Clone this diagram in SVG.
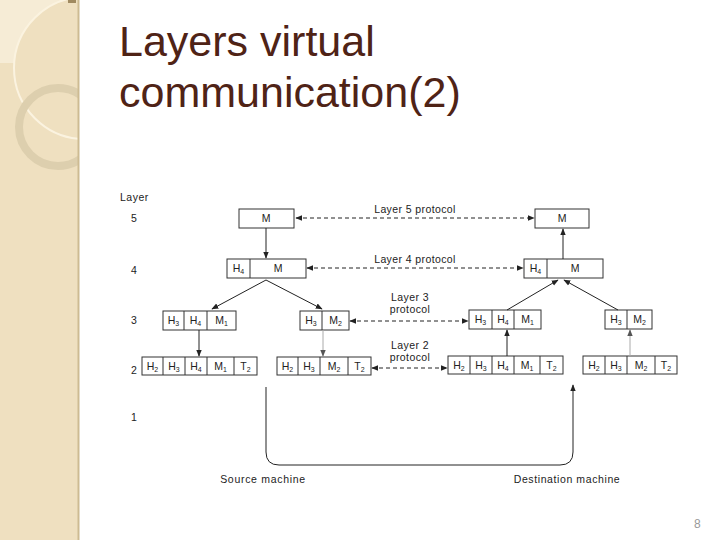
<svg xmlns="http://www.w3.org/2000/svg" width="720" height="540" viewBox="0 0 720 540">
<defs>
<marker id="ah" viewBox="0 0 10 10" refX="9" refY="5" markerWidth="7" markerHeight="7" markerUnits="userSpaceOnUse" orient="auto-start-reverse"><path d="M0,1 L10,5 L0,9 Z" fill="#222"/></marker>
<marker id="ahg" viewBox="0 0 10 10" refX="9" refY="5" markerWidth="7" markerHeight="7" markerUnits="userSpaceOnUse" orient="auto"><path d="M0,1 L10,5 L0,9 Z" fill="#555"/></marker>
<clipPath id="strip"><rect x="0" y="0" width="78" height="540"/></clipPath>
</defs>
<style>
.box{fill:#fff;stroke:#333;stroke-width:1}
.div{stroke:#333;stroke-width:1}
.t{font-family:"Liberation Sans",Arial,sans-serif;font-size:10.5px;fill:#222;text-anchor:middle}
.s{font-size:7px}
.lbl{font-family:"Liberation Sans",Arial,sans-serif;font-size:10.5px;fill:#222}
.ln{stroke:#222;stroke-width:1;fill:none}
.dash{stroke:#222;stroke-width:1;stroke-dasharray:4,3;fill:none}
.title{font-family:"Liberation Sans",Arial,sans-serif;font-size:43px;fill:#4f2316}
</style>
<rect width="720" height="540" fill="#fff"/>
<g id="background" clip-path="url(#strip)">
<rect x="0" y="0" width="78" height="540" fill="#efe0c0"/>
<path d="M0,0 H66 A71,71 0 0 0 14,63 H0 Z" fill="#f6ecd6"/>
<circle cx="85" cy="68" r="71" fill="none" stroke="#fbf3e0" stroke-width="2"/>
<circle cx="58" cy="127" r="39" fill="none" stroke="#ddcfae" stroke-width="8"/>
<rect x="68" y="0" width="8" height="3" fill="#a08a60"/>
</g>
<line x1="78.5" y1="0" x2="78.5" y2="540" stroke="#cdbb92" stroke-width="2"/>
<g id="title">
<text class="title" x="119" y="56">Layers virtual</text>
<text class="title" x="119" y="107">communication(2)</text>
</g>
<g id="layer-labels">
<text class="lbl" x="120" y="201" letter-spacing="0.5">Layer</text>
<text class="t" x="134" y="222">5</text>
<text class="t" x="134" y="274">4</text>
<text class="t" x="134" y="324">3</text>
<text class="t" x="134" y="374">2</text>
<text class="t" x="134" y="421">1</text>
</g>
<g id="src-l5">
<rect class="box" x="239" y="209" width="55" height="19"/>
<text class="t" x="266" y="222">M</text>
</g>
<g id="dst-l5">
<rect class="box" x="535" y="209" width="54" height="19"/>
<text class="t" x="562" y="222">M</text>
</g>
<g id="src-l4">
<rect class="box" x="227" y="259" width="79" height="19"/>
<line class="div" x1="250" y1="259" x2="250" y2="278"/>
<text class="t" x="238.5" y="272">H<tspan class="s" dy="2">4</tspan></text>
<text class="t" x="278" y="272">M</text>
</g>
<g id="dst-l4">
<rect class="box" x="524" y="259" width="79" height="19"/>
<line class="div" x1="547" y1="259" x2="547" y2="278"/>
<text class="t" x="535.5" y="272">H<tspan class="s" dy="2">4</tspan></text>
<text class="t" x="575" y="272">M</text>
</g>
<g id="src-l3a">
<rect class="box" x="163" y="311" width="73" height="19"/>
<line class="div" x1="184" y1="311" x2="184" y2="330"/>
<line class="div" x1="207" y1="311" x2="207" y2="330"/>
<text class="t" x="173.5" y="324">H<tspan class="s" dy="2">3</tspan></text>
<text class="t" x="195.5" y="324">H<tspan class="s" dy="2">4</tspan></text>
<text class="t" x="221.5" y="324">M<tspan class="s" dy="2">1</tspan></text>
</g>
<g id="src-l3b">
<rect class="box" x="300" y="311" width="49" height="19"/>
<line class="div" x1="322" y1="311" x2="322" y2="330"/>
<text class="t" x="311" y="324">H<tspan class="s" dy="2">3</tspan></text>
<text class="t" x="335.5" y="324">M<tspan class="s" dy="2">2</tspan></text>
</g>
<g id="dst-l3a">
<rect class="box" x="469" y="310" width="72" height="19"/>
<line class="div" x1="492" y1="310" x2="492" y2="329"/>
<line class="div" x1="514" y1="310" x2="514" y2="329"/>
<text class="t" x="480.5" y="323">H<tspan class="s" dy="2">3</tspan></text>
<text class="t" x="503" y="323">H<tspan class="s" dy="2">4</tspan></text>
<text class="t" x="527.5" y="323">M<tspan class="s" dy="2">1</tspan></text>
</g>
<g id="dst-l3b">
<rect class="box" x="605" y="310" width="47" height="19"/>
<line class="div" x1="627" y1="310" x2="627" y2="329"/>
<text class="t" x="616" y="323">H<tspan class="s" dy="2">3</tspan></text>
<text class="t" x="639.5" y="323">M<tspan class="s" dy="2">2</tspan></text>
</g>
<g id="src-l2a">
<rect class="box" x="142" y="357" width="115" height="18"/>
<line class="div" x1="163" y1="357" x2="163" y2="375"/>
<line class="div" x1="185" y1="357" x2="185" y2="375"/>
<line class="div" x1="207" y1="357" x2="207" y2="375"/>
<line class="div" x1="234" y1="357" x2="234" y2="375"/>
<text class="t" x="152.5" y="370">H<tspan class="s" dy="2">2</tspan></text>
<text class="t" x="174" y="370">H<tspan class="s" dy="2">3</tspan></text>
<text class="t" x="196" y="370">H<tspan class="s" dy="2">4</tspan></text>
<text class="t" x="220.5" y="370">M<tspan class="s" dy="2">1</tspan></text>
<text class="t" x="245.5" y="370">T<tspan class="s" dy="2">2</tspan></text>
</g>
<g id="src-l2b">
<rect class="box" x="277" y="357" width="94" height="18"/>
<line class="div" x1="298" y1="357" x2="298" y2="375"/>
<line class="div" x1="320" y1="357" x2="320" y2="375"/>
<line class="div" x1="348" y1="357" x2="348" y2="375"/>
<text class="t" x="287.5" y="370">H<tspan class="s" dy="2">2</tspan></text>
<text class="t" x="309" y="370">H<tspan class="s" dy="2">3</tspan></text>
<text class="t" x="334" y="370">M<tspan class="s" dy="2">2</tspan></text>
<text class="t" x="359.5" y="370">T<tspan class="s" dy="2">2</tspan></text>
</g>
<g id="dst-l2a">
<rect class="box" x="448" y="356" width="115" height="18"/>
<line class="div" x1="470" y1="356" x2="470" y2="374"/>
<line class="div" x1="492" y1="356" x2="492" y2="374"/>
<line class="div" x1="514" y1="356" x2="514" y2="374"/>
<line class="div" x1="540" y1="356" x2="540" y2="374"/>
<text class="t" x="459" y="369">H<tspan class="s" dy="2">2</tspan></text>
<text class="t" x="481" y="369">H<tspan class="s" dy="2">3</tspan></text>
<text class="t" x="503" y="369">H<tspan class="s" dy="2">4</tspan></text>
<text class="t" x="527" y="369">M<tspan class="s" dy="2">1</tspan></text>
<text class="t" x="551.5" y="369">T<tspan class="s" dy="2">2</tspan></text>
</g>
<g id="dst-l2b">
<rect class="box" x="583" y="356" width="94" height="18"/>
<line class="div" x1="605" y1="356" x2="605" y2="374"/>
<line class="div" x1="627" y1="356" x2="627" y2="374"/>
<line class="div" x1="655" y1="356" x2="655" y2="374"/>
<text class="t" x="594" y="369">H<tspan class="s" dy="2">2</tspan></text>
<text class="t" x="616" y="369">H<tspan class="s" dy="2">3</tspan></text>
<text class="t" x="641" y="369">M<tspan class="s" dy="2">2</tspan></text>
<text class="t" x="666" y="369">T<tspan class="s" dy="2">2</tspan></text>
</g>
<g id="connectors">
<line class="ln" x1="266" y1="228" x2="266" y2="258" marker-end="url(#ah)"/>
<line class="ln" x1="563" y1="259" x2="563" y2="229" marker-end="url(#ah)"/>
<line class="ln" x1="266" y1="280" x2="212" y2="309" marker-end="url(#ah)"/>
<line class="ln" x1="266" y1="280" x2="322" y2="309" marker-end="url(#ah)"/>
<line class="ln" x1="507" y1="310" x2="558" y2="280" marker-end="url(#ah)"/>
<line class="ln" x1="618" y1="310" x2="564" y2="280" marker-end="url(#ah)"/>
<line class="ln" x1="199" y1="330" x2="199" y2="356" marker-end="url(#ah)"/>
<line x1="323" y1="330" x2="323" y2="356" stroke="#aaa" stroke-width="1" marker-end="url(#ahg)"/>
<line class="ln" x1="507" y1="356" x2="507" y2="330" marker-end="url(#ah)"/>
<line x1="630" y1="356" x2="630" y2="330" stroke="#aaa" stroke-width="1" marker-end="url(#ahg)"/>
<line class="dash" x1="296" y1="218" x2="534" y2="218" marker-start="url(#ah)" marker-end="url(#ah)"/>
<line class="dash" x1="307" y1="268" x2="523" y2="268" marker-start="url(#ah)" marker-end="url(#ah)"/>
<line class="dash" x1="350" y1="321" x2="468" y2="321" marker-start="url(#ah)" marker-end="url(#ah)"/>
<line class="dash" x1="372" y1="368" x2="447" y2="368" marker-start="url(#ah)" marker-end="url(#ah)"/>
<path class="ln" d="M266,387 V452 Q266,465 279,465 H560 Q573,465 573,452 V385" marker-end="url(#ah)"/>
</g>
<g id="protocol-labels">
<text class="t" x="415" y="213" letter-spacing="0.4">Layer 5 protocol</text>
<text class="t" x="415" y="263" letter-spacing="0.4">Layer 4 protocol</text>
<text class="t" x="410" y="301" letter-spacing="0.4">Layer 3</text>
<text class="t" x="410" y="313" letter-spacing="0.4">protocol</text>
<text class="t" x="410" y="349" letter-spacing="0.4">Layer 2</text>
<text class="t" x="410" y="361" letter-spacing="0.4">protocol</text>
</g>
<g id="machine-labels">
<text class="t" x="263" y="483" letter-spacing="0.7">Source machine</text>
<text class="t" x="567" y="483" letter-spacing="0.6">Destination machine</text>
</g>
<text x="694" y="528" font-family="Liberation Sans,Arial,sans-serif" font-size="12" fill="#999">8</text>
</svg>
